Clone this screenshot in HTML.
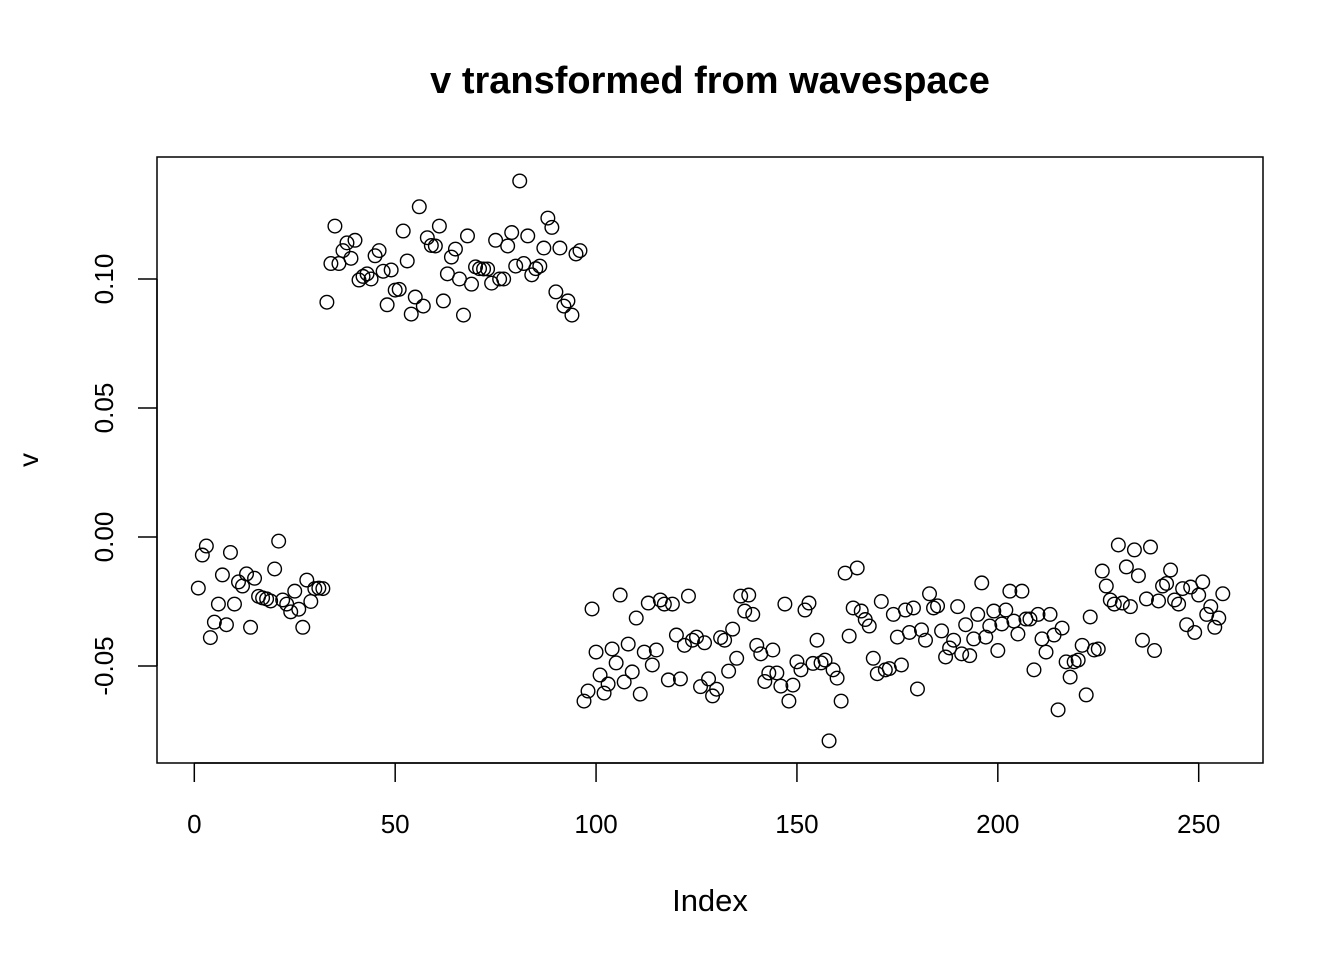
<!DOCTYPE html>
<html><head><meta charset="utf-8"><style>
html,body{margin:0;padding:0;background:#fff;}
svg{display:block;font-family:"Liberation Sans",Arial,sans-serif;}
</style></head><body>
<svg id="chart" width="1344" height="960" xmlns="http://www.w3.org/2000/svg">
<rect width="1344" height="960" fill="#fff"/>
<text x="710" y="93" text-anchor="middle" font-size="38" font-weight="bold">v transformed from wavespace</text>
<rect x="157" y="157" width="1106" height="606" fill="none" stroke="#000" stroke-width="1.5"/>
<g id="xaxis"></g>
<g id="yaxis"></g>
<g id="points"></g>
<text x="710" y="911" text-anchor="middle" font-size="31">Index</text>
<text x="38" y="460" text-anchor="middle" font-size="28" transform="rotate(-90 38 460)">v</text>
</svg>
<script>
const xTicks=[0,50,100,150,200,250];
const yTicks=[-0.05,0,0.05,0.1];
const yTickLabels=["-0.05","0.00","0.05","0.10"];
const values=[
-0.0198,-0.007,-0.0035,-0.039,-0.033,-0.026,-0.0147,-0.034,-0.006,-0.026,
-0.0174,-0.019,-0.0143,-0.035,-0.016,-0.023,-0.0236,-0.024,-0.0248,-0.0124,
-0.0016,-0.0244,-0.026,-0.029,-0.021,-0.028,-0.035,-0.0167,-0.025,-0.020,
-0.0198,-0.020,
0.091,0.106,0.1205,0.106,0.111,0.114,0.108,0.115,0.0996,0.101,
0.102,0.100,0.109,0.111,0.103,0.090,0.1035,0.0957,0.096,0.1186,
0.107,0.0864,0.093,0.128,0.0895,0.116,0.113,0.1128,0.1205,0.0915,
0.102,0.1085,0.1116,0.100,0.086,0.1167,0.098,0.1047,0.104,0.1039,
0.1039,0.0984,0.115,0.100,0.100,0.1128,0.118,0.105,0.138,0.106,
0.1167,0.1016,0.104,0.105,0.112,0.1236,0.120,0.095,0.112,0.0895,
0.0915,0.086,0.1097,0.111,
-0.0636,-0.0597,-0.0279,-0.0446,-0.0535,-0.0605,-0.057,-0.0434,-0.0488,-0.0225,
-0.0562,-0.0415,-0.0523,-0.0314,-0.0609,-0.0446,-0.0256,-0.0496,-0.0438,-0.0244,
-0.026,-0.0554,-0.026,-0.038,-0.055,-0.042,-0.0229,-0.040,-0.0388,-0.058,
-0.041,-0.055,-0.0616,-0.059,-0.039,-0.040,-0.052,-0.0357,-0.047,-0.0229,
-0.0287,-0.0225,-0.030,-0.042,-0.0453,-0.056,-0.0527,-0.0438,-0.0527,-0.0578,
-0.026,-0.0636,-0.0574,-0.0484,-0.0515,-0.0283,-0.0256,-0.049,-0.040,-0.0488,
-0.0477,-0.079,-0.0515,-0.0547,-0.0636,-0.014,-0.0384,-0.0275,-0.012,-0.0287,
-0.032,-0.0345,-0.047,-0.053,-0.025,-0.0515,-0.051,-0.030,-0.0388,-0.0496,
-0.0283,-0.037,-0.0275,-0.0589,-0.036,-0.040,-0.022,-0.0275,-0.0267,-0.0364,
-0.0465,-0.043,-0.040,-0.027,-0.0453,-0.034,-0.046,-0.0395,-0.030,-0.0178,
-0.0388,-0.0345,-0.0287,-0.044,-0.0337,-0.0283,-0.021,-0.0326,-0.0376,-0.021,
-0.0318,-0.0318,-0.0515,-0.030,-0.0395,-0.0446,-0.030,-0.038,-0.067,-0.0353,
-0.0484,-0.0543,-0.0484,-0.0477,-0.042,-0.0612,-0.031,-0.0438,-0.0434,-0.0132,
-0.019,-0.0244,-0.026,-0.0031,-0.0256,-0.0116,-0.027,-0.005,-0.015,-0.040,
-0.024,-0.0039,-0.044,-0.0248,-0.019,-0.018,-0.0128,-0.0244,-0.026,-0.020,
-0.034,-0.0194,-0.037,-0.0225,-0.0174,-0.030,-0.027,-0.035,-0.0314,-0.022
];
const NS="http://www.w3.org/2000/svg";
const xs=i=>194.3+(1198.7-194.3)*i/250;
const ys=v=>537-v*2580;
function mk(tag,attrs){const e=document.createElementNS(NS,tag);for(const k in attrs)e.setAttribute(k,attrs[k]);return e;}
const xa=document.getElementById('xaxis');
xa.appendChild(mk('line',{x1:xs(xTicks[0]),x2:xs(xTicks[xTicks.length-1]),y1:763,y2:763,stroke:'#000','stroke-width':1.5}));
xTicks.forEach(t=>{
  const l=mk('line',{x1:xs(t),x2:xs(t),y1:763,y2:782,stroke:'#000','stroke-width':1.5});
  
  
  xa.appendChild(l);
  const tx=mk('text',{x:xs(t),y:833,'text-anchor':'middle','font-size':26});
  
  
  tx.textContent=String(t);xa.appendChild(tx);
});
const ya=document.getElementById('yaxis');
ya.appendChild(mk('line',{x1:157,x2:157,y1:ys(yTicks[0]),y2:ys(yTicks[yTicks.length-1]),stroke:'#000','stroke-width':1.5}));
yTicks.forEach((t,i)=>{
  const y=ys(t);
  const l=mk('line',{x1:138,x2:157,y1:y,y2:y,stroke:'#000','stroke-width':1.5});
  
  
  ya.appendChild(l);
  const tx=mk('text',{x:113,y:y,'text-anchor':'middle','font-size':26,transform:`rotate(-90 113 ${y})`});
  
  
  tx.textContent=yTickLabels[i];ya.appendChild(tx);
});
const pg=document.getElementById('points');
values.forEach((v,i)=>{
  const c=mk('circle',{cx:xs(i+1),cy:ys(v),r:6.8,fill:'none',stroke:'#000','stroke-width':1.4});
  
  
  pg.appendChild(c);
});
</script>
</body></html>
